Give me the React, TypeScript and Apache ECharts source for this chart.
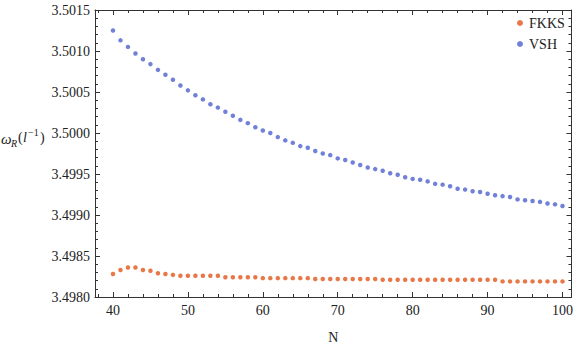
import React, { useEffect, useRef } from "react";
import * as echarts from "echarts";

const N = [
  40, 41, 42, 43, 44, 45, 46, 47, 48, 49,
  50, 51, 52, 53, 54, 55, 56, 57, 58, 59,
  60, 61, 62, 63, 64, 65, 66, 67, 68, 69,
  70, 71, 72, 73, 74, 75, 76, 77, 78, 79,
  80, 81, 82, 83, 84, 85, 86, 87, 88, 89,
  90, 91, 92, 93, 94, 95, 96, 97, 98, 99,
  100,
];

const FKKS = [
  3.49828, 3.49833, 3.49836, 3.49836, 3.49833, 3.49832, 3.49829, 3.49828, 3.49827, 3.49826,
  3.49826, 3.49826, 3.49826, 3.49826, 3.49826, 3.49824, 3.49824, 3.49824, 3.49824, 3.49824,
  3.49823, 3.49823, 3.49823, 3.49823, 3.49823, 3.49823, 3.49823, 3.49822, 3.49822, 3.49822,
  3.49822, 3.49822, 3.49822, 3.49822, 3.49822, 3.49822, 3.49821, 3.49821, 3.49821, 3.49821,
  3.49821, 3.49821, 3.49821, 3.49821, 3.49821, 3.49821, 3.49821, 3.49821, 3.49821, 3.49821,
  3.49821, 3.49821, 3.49819, 3.49819, 3.49819, 3.49819, 3.49819, 3.49819, 3.49819, 3.49819,
  3.49819,
];

const VSH = [
  3.50125, 3.50113, 3.50105, 3.50097, 3.5009, 3.50084, 3.50077, 3.50071, 3.50065, 3.50058,
  3.50052, 3.50046, 3.50041, 3.50035, 3.50031, 3.50026, 3.50021, 3.50016, 3.50012, 3.50007,
  3.50003, 3.5, 3.49995, 3.49991, 3.49988, 3.49984, 3.49982, 3.49978, 3.49975, 3.49973,
  3.49969, 3.49967, 3.49964, 3.49961, 3.49958, 3.49956, 3.49954, 3.49951, 3.49949, 3.49946,
  3.49944, 3.49943, 3.49941, 3.49938, 3.49937, 3.49935, 3.49932, 3.49931, 3.49929, 3.49928,
  3.49926, 3.49924, 3.49923, 3.49922, 3.49919, 3.49918, 3.49917, 3.49916, 3.49914, 3.49913,
  3.49911,
];

const X_MAJOR = [40, 50, 60, 70, 80, 90, 100];
const X_MINOR = [38, 42, 44, 46, 48, 52, 54, 56, 58, 62, 64, 66, 68, 72, 74, 76, 78, 82, 84, 86, 88, 92, 94, 96, 98];
const Y_MAJOR = [3.498, 3.4985, 3.499, 3.4995, 3.5, 3.5005, 3.501, 3.5015];
const Y_MINOR = [
  3.4981, 3.4982, 3.4983, 3.4984, 3.4986, 3.4987, 3.4988, 3.4989,
  3.4991, 3.4992, 3.4993, 3.4994, 3.4996, 3.4997, 3.4998, 3.4999,
  3.5001, 3.5002, 3.5003, 3.5004, 3.5006, 3.5007, 3.5008, 3.5009,
  3.5011, 3.5012, 3.5013, 3.5014,
];

const FONT = "'Liberation Serif', 'Times New Roman', serif";
const FRAME = "#333";
const TEXT = "#222";
const ORANGE = "#E2561A";
const BLUE = "#4E62CE";

export default function App() {
  const ref = useRef<HTMLDivElement>(null);
  useEffect(() => {
    if (!ref.current) return;
    const chart = echarts.init(ref.current, null, { renderer: "svg" });
    const xRange = { min: 37.6, max: 101.2 };
    const yRange = { min: 3.498, max: 3.5015 };
    const base = (pos: string, major: boolean) => ({
      type: "value",
      position: pos,
      splitLine: { show: false },
      axisLine: { show: major, onZero: false, lineStyle: { color: FRAME, width: 1 } },
      axisTick: {
        show: true,
        inside: true,
        length: major ? 5 : 3,
        lineStyle: { color: FRAME, width: 1 },
      },
    });
    const xAxes = [
      ["bottom", true],
      ["bottom", false],
      ["top", true],
      ["top", false],
    ].map(([pos, major], i) => {
      const a: any = base(pos as string, major as boolean);
      a.min = xRange.min;
      a.max = xRange.max;
      a.axisTick.customValues = major ? X_MAJOR : X_MINOR;
      a.axisLabel = i === 0
        ? { show: true, customValues: X_MAJOR, margin: 6, fontFamily: FONT, fontSize: 14, color: TEXT }
        : { show: false };
      if (i === 0) {
        a.name = "N";
        a.nameLocation = "middle";
        a.nameGap = 33;
        a.nameTextStyle = { fontFamily: FONT, fontSize: 14, color: TEXT };
      }
      return a;
    });
    const yAxes = [
      ["left", true],
      ["left", false],
      ["right", true],
      ["right", false],
    ].map(([pos, major], i) => {
      const a: any = base(pos as string, major as boolean);
      a.min = yRange.min;
      a.max = yRange.max;
      a.axisTick.customValues = major ? Y_MAJOR : Y_MINOR;
      a.axisLabel = i === 0
        ? {
            show: true,
            customValues: Y_MAJOR,
            margin: 5,
            fontFamily: FONT,
            fontSize: 14,
            color: TEXT,
            formatter: (v: number) => v.toFixed(4),
          }
        : { show: false };
      return a;
    });
    const toPts = (vals: number[]) => N.map((n, i) => [n, vals[i]]);
    chart.setOption({
      animation: false,
      grid: { left: 95, right: 4, top: 10, bottom: 44, containLabel: false },
      xAxis: xAxes,
      yAxis: yAxes,
      legend: {
        orient: "vertical",
        left: 517,
        top: 16,
        padding: 0,
        itemWidth: 6,
        itemHeight: 6,
        itemGap: 7,
        icon: "circle",
        textStyle: { fontFamily: FONT, fontSize: 14, color: TEXT, padding: [0, 0, 0, 1] },
        data: ["FKKS", "VSH"],
      },
      graphic: [
        {
          type: "group",
          left: 1,
          top: 127,
          children: [
            { type: "text", x: 0, y: 3, style: { text: "ω", font: `italic 15px ${FONT}`, fill: TEXT } },
            { type: "text", x: 10, y: 10, style: { text: "R", font: `italic 10px ${FONT}`, fill: TEXT } },
            { type: "text", x: 17, y: 2, style: { text: "(", font: `14px ${FONT}`, fill: TEXT } },
            { type: "text", x: 22, y: 2, style: { text: "l", font: `italic 14px ${FONT}`, fill: TEXT } },
            { type: "text", x: 27, y: -1, style: { text: "−1", font: `10px ${FONT}`, fill: TEXT } },
            { type: "text", x: 39, y: 2, style: { text: ")", font: `14px ${FONT}`, fill: TEXT } },
          ],
        },
      ],
      series: [
        {
          name: "FKKS",
          type: "scatter",
          xAxisIndex: 0,
          yAxisIndex: 0,
          symbolSize: 4.5,
          itemStyle: { color: ORANGE },
          data: toPts(FKKS),
        },
        {
          name: "VSH",
          type: "scatter",
          xAxisIndex: 0,
          yAxisIndex: 0,
          symbolSize: 4.5,
          itemStyle: { color: BLUE },
          data: toPts(VSH),
        },
      ],
    });
    return () => chart.dispose();
  }, []);
  return (
    <div
      ref={ref}
      style={{ position: "fixed", left: 0, top: 0, width: 576, height: 349, background: "#fff" }}
    />
  );
}
